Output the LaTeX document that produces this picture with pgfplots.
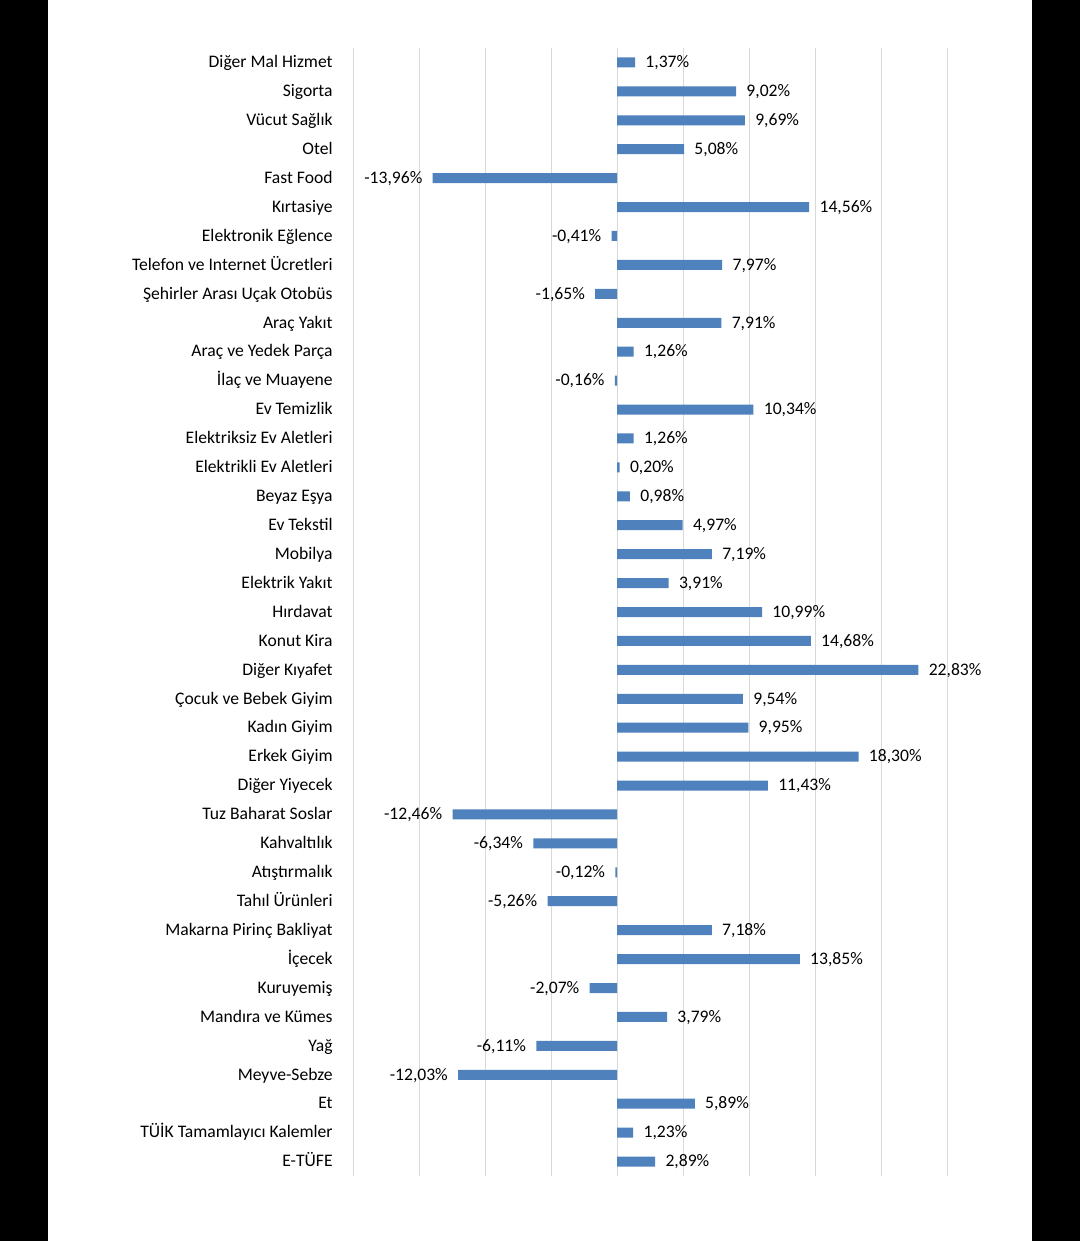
\documentclass[border=0pt]{standalone}
\usepackage{pgfplots}
\pgfplotsset{compat=1.18}
\usepackage{pgfplotstable}
\usepackage{fontspec}
\setmainfont{Carlito}
\definecolor{barblue}{HTML}{4F81BD}
\definecolor{gridgray}{HTML}{D9D9D9}
\pgfplotstableread{
y v
0 1.37
1 9.02
2 9.69
3 5.08
5 14.56
7 7.97
9 7.91
10 1.26
12 10.34
13 1.26
14 0.20
15 0.98
16 4.97
17 7.19
18 3.91
19 10.99
20 14.68
21 22.83
22 9.54
23 9.95
24 18.30
25 11.43
30 7.18
31 13.85
33 3.79
36 5.89
37 1.23
38 2.89
}\pos
\pgfplotstableread{
y v
4 -13.96
6 -0.41
8 -1.65
11 -0.16
26 -12.46
27 -6.34
28 -0.12
29 -5.26
32 -2.07
34 -6.11
35 -12.03
}\negs
\begin{document}
\begin{tikzpicture}
\useasboundingbox (0pt,0pt) rectangle (540pt,620.5pt);
\fill[white] (0pt,0pt) rectangle (540pt,620.5pt);
\fill[black] (0pt,0pt) rectangle (24pt,620.5pt);
\fill[black] (516pt,0pt) rectangle (540pt,620.5pt);
\begin{axis}[
  at={(325pt,314.5pt)}, anchor=center,
  scale only axis, width=297pt, height=564pt,
  xbar, bar width=5pt, bar shift=0pt,
  xmin=-20, xmax=25, ymin=-0.5, ymax=38.5, y dir=reverse,
  xtick={-20,-15,...,25}, xticklabels={},
  xmajorgrids, grid style={draw=gridgray, line width=0.5pt},
  axis line style={draw=none},
  major tick length=0pt,
  ytick={0,...,38},
  yticklabels={Diğer Mal Hizmet, Sigorta, Vücut Sağlık, Otel, Fast Food, Kırtasiye, Elektronik Eğlence, Telefon ve Internet Ücretleri, Şehirler Arası Uçak Otobüs, Araç Yakıt, Araç ve Yedek Parça, İlaç ve Muayene, Ev Temizlik, Elektriksiz Ev Aletleri, Elektrikli Ev Aletleri, Beyaz Eşya, Ev Tekstil, Mobilya, Elektrik Yakıt, Hırdavat, Konut Kira, Diğer Kıyafet, Çocuk ve Bebek Giyim, Kadın Giyim, Erkek Giyim, Diğer Yiyecek, Tuz Baharat Soslar, Kahvaltılık, Atıştırmalık, Tahıl Ürünleri, Makarna Pirinç Bakliyat, İçecek, Kuruyemiş, Mandıra ve Kümes, Yağ, Meyve-Sebze, Et, TÜİK Tamamlayıcı Kalemler, E-TÜFE},
  yticklabel style={font=\fontsize{8.8}{10}\selectfont, anchor=east, inner sep=0pt, xshift=-10pt, text height=1.55ex, text depth=0.45ex},
  /pgf/number format/assume math mode=true,
  nodes near coords={\pgfmathprintnumber[fixed,fixed zerofill,precision=2,use comma]{\pgfplotspointmeta}\%},
  nodes near coords style={font=\fontsize{8.8}{10}\selectfont, inner sep=0pt, text=black, text height=1.55ex, text depth=0.45ex},
  point meta=x,
  clip=false,
]
\addplot[fill=barblue, draw=none, every node near coord/.append style={anchor=west, xshift=5pt}] table[x=v,y=y] {\pos};
\addplot[fill=barblue, draw=none, every node near coord/.append style={anchor=east, xshift=-5pt}] table[x=v,y=y] {\negs};
\end{axis}
\end{tikzpicture}
\end{document}
